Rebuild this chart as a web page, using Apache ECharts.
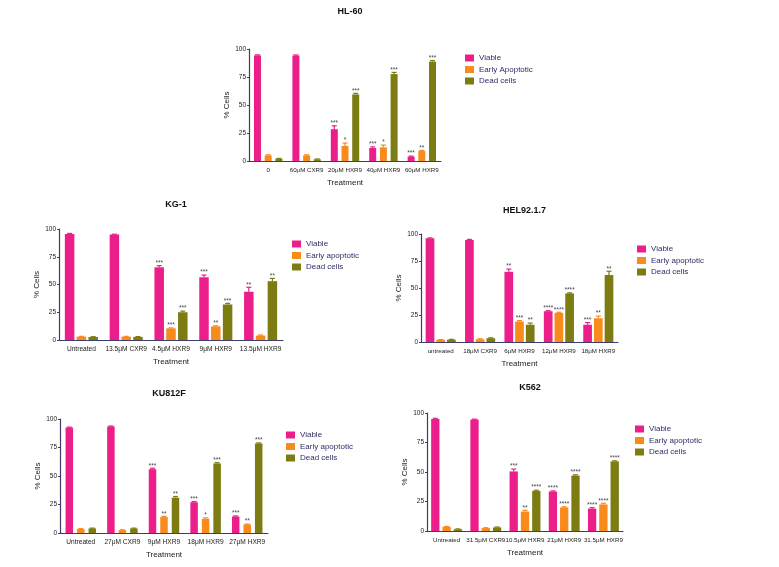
<!DOCTYPE html>
<html>
<head>
<meta charset="utf-8">
<script src="https://cdn.jsdelivr.net/npm/echarts@6/dist/echarts.min.js"></script>
<style>
  html, body { margin: 0; padding: 0; background: #fff; }
  #chart { width: 779px; height: 567px; }
</style>
</head>
<body>
<div id="chart"></div>
<script>
// HL-60
var hl60Cats = ['0', '60μM CXR9', '20μM HXR9', '40μM HXR9', '60μM HXR9'];
var hl60Viable = [94.3, 94.2, 28.4, 11.6, 3.9];
var hl60Early = [5, 5, 13.5, 12.2, 9];
var hl60Dead = [2, 1.5, 59.4, 77.6, 88.7];
var hl60ViableErr = [0.5, 0.5, 3, 1, 0.5];
var hl60EarlyErr = [0.5, 0.5, 2.5, 2, 0.5];
var hl60DeadErr = [0.3, 0.3, 1, 1.5, 1];
var hl60ViableSig = ['', '', '***', '***', '***'];
var hl60EarlySig = ['', '', '*', '*', '**'];
var hl60DeadSig = ['', '', '***', '***', '***'];

// KG-1
var kg1Cats = ['Untreated', '13.5μM CXR9', '4.5μM HXR9', '9μM HXR9', '13.5μM HXR9'];
var kg1Viable = [95.5, 95, 65.5, 56.5, 43.5];
var kg1Early = [3, 3, 10.5, 12.3, 4];
var kg1Dead = [2.7, 2.8, 25, 32, 53];
var kg1ViableErr = [0.5, 0.3, 1.5, 2, 4];
var kg1EarlyErr = [0.3, 0.3, 0.4, 0.5, 0.5];
var kg1DeadErr = [0.3, 0.3, 1, 1, 2.5];
var kg1ViableSig = ['', '', '***', '***', '**'];
var kg1EarlySig = ['', '', '***', '**', ''];
var kg1DeadSig = ['', '', '***', '***', '**'];

// HEL92.1.7
var helCats = ['untreated', '18μM CXR9', '6μM HXR9', '12μM HXR9', '18μM HXR9'];
var helViable = [96, 94.5, 65, 28.5, 16];
var helEarly = [2, 2.5, 19, 27, 22];
var helDead = [2.2, 3.5, 16, 45, 62];
var helViableErr = [0.4, 0.5, 2.5, 0.5, 2];
var helEarlyErr = [0.3, 0.5, 0.8, 0.5, 2];
var helDeadErr = [0.3, 0.4, 1.5, 0.5, 3.5];
var helViableSig = ['', '', '**', '****', '***'];
var helEarlySig = ['', '', '***', '****', '**'];
var helDeadSig = ['', '', '**', '****', '**'];

// KU812F
var kuCats = ['Untreated', '27μM CXR9', '9μM HXR9', '18μM HXR9', '27μM HXR9'];
var kuViable = [92.5, 93.5, 56, 27, 14.5];
var kuEarly = [3.5, 2.5, 14, 12.5, 7.5];
var kuDead = [4, 4, 31, 61, 78.5];
var kuViableErr = [0.4, 0.4, 0.8, 0.6, 0.5];
var kuEarlyErr = [0.3, 0.3, 0.6, 0.8, 0.4];
var kuDeadErr = [0.3, 0.3, 1, 0.7, 0.5];
var kuViableSig = ['', '', '***', '***', '***'];
var kuEarlySig = ['', '', '**', '*', '**'];
var kuDeadSig = ['', '', '**', '***', '***'];

// K562
var k562Cats = ['Untreated', '31.5μM CXR9', '10.5μM HXR9', '21μM HXR9', '31.5μM HXR9'];
var k562Viable = [95, 94.5, 50.5, 33.5, 19];
var k562Early = [3.5, 2.5, 16.5, 20, 22.5];
var k562Dead = [1.5, 3, 34, 47, 59];
var k562ViableErr = [0.5, 0.3, 2, 0.5, 0.8];
var k562EarlyErr = [0.4, 0.3, 1, 0.5, 1];
var k562DeadErr = [0.3, 0.4, 0.6, 0.6, 0.5];
var k562ViableSig = ['', '', '***', '****', '****'];
var k562EarlySig = ['', '', '**', '****', '****'];
var k562DeadSig = ['', '', '****', '****', '****'];

var colors = ['#ec1f8a', '#f98a1c', '#7d7c13'];
var font = "'Liberation Sans Narrow', 'Arial Narrow', 'Liberation Sans', Arial, sans-serif";

var panels = [
    {title: 'HL-60', cats: hl60Cats, names: ['Viable', 'Early Apoptotic', 'Dead cells'],
     vals: [hl60Viable, hl60Early, hl60Dead], errs: [hl60ViableErr, hl60EarlyErr, hl60DeadErr],
     sigs: [hl60ViableSig, hl60EarlySig, hl60DeadSig],
     left: 249, top: 49, width: 192, height: 112, bw: 7, gap: 3.7, titleY: 2, legX: 460, legY: 49, fs: 6.2},
    {title: 'KG-1', cats: kg1Cats, names: ['Viable', 'Early apoptotic', 'Dead cells'],
     vals: [kg1Viable, kg1Early, kg1Dead], errs: [kg1ViableErr, kg1EarlyErr, kg1DeadErr],
     sigs: [kg1ViableSig, kg1EarlySig, kg1DeadSig],
     left: 59, top: 229, width: 224, height: 111, bw: 9.5, gap: 2.3, titleY: 195, legX: 287, legY: 235, fs: 6.6},
    {title: 'HEL92.1.7', cats: helCats, names: ['Viable', 'Early apoptotic', 'Dead cells'],
     vals: [helViable, helEarly, helDead], errs: [helViableErr, helEarlyErr, helDeadErr],
     sigs: [helViableSig, helEarlySig, helDeadSig],
     left: 421, top: 234, width: 197, height: 108, bw: 8.7, gap: 2, titleY: 201, legX: 632, legY: 240, fs: 6.2},
    {title: 'KU812F', cats: kuCats, names: ['Viable', 'Early apoptotic', 'Dead cells'],
     vals: [kuViable, kuEarly, kuDead], errs: [kuViableErr, kuEarlyErr, kuDeadErr],
     sigs: [kuViableSig, kuEarlySig, kuDeadSig],
     left: 60, top: 419, width: 208, height: 114, bw: 7.5, gap: 4, titleY: 384, legX: 281, legY: 426, fs: 6.6},
    {title: 'K562', cats: k562Cats, names: ['Viable', 'Early apoptotic', 'Dead cells'],
     vals: [k562Viable, k562Early, k562Dead], errs: [k562ViableErr, k562EarlyErr, k562DeadErr],
     sigs: [k562ViableSig, k562EarlySig, k562DeadSig],
     left: 427, top: 413, width: 196, height: 118, bw: 8.3, gap: 3, titleY: 378, legX: 630, legY: 420, fs: 6.2}
];

var option = {
    animation: false,
    backgroundColor: '#fff',
    textStyle: {fontFamily: font},
    title: [], legend: [], grid: [], xAxis: [], yAxis: [], series: []
};

var errorSeries = function (p, idx) {
    var items = [], sigs = [];
    for (var k = 0; k < 3; k++) {
        for (var i = 0; i < p.cats.length; i++) {
            items.push([i, p.vals[k][i], p.errs[k][i], k]);
            sigs.push(p.sigs[k][i]);
        }
    }
    return {
        type: 'custom',
        xAxisIndex: idx,
        yAxisIndex: idx,
        z: 3,
        silent: true,
        data: items,
        renderItem: function (params, api) {
            var cat = api.value(0), val = api.value(1), err = api.value(2), k = api.value(3);
            var off = (k - 1) * (p.bw + p.gap);
            var top = api.coord([cat, val + err]);
            var base = api.coord([cat, val]);
            var x = top[0] + off;
            var c = colors[k];
            var children = [
                {type: 'line', shape: {x1: x, y1: base[1], x2: x, y2: top[1]}, style: {stroke: c, lineWidth: 1.2}},
                {type: 'line', shape: {x1: x - 2.5, y1: top[1], x2: x + 2.5, y2: top[1]}, style: {stroke: c, lineWidth: 1.2}}
            ];
            var s = sigs[params.dataIndex];
            if (s) {
                children.push({
                    type: 'text',
                    style: {
                        text: s, x: x, y: top[1] + 1,
                        align: 'center', verticalAlign: 'bottom',
                        textAlign: 'center', textVerticalAlign: 'bottom',
                        fill: '#444', fontSize: 6.5, fontFamily: font
                    }
                });
            }
            return {type: 'group', children: children};
        }
    };
};

panels.forEach(function (p, idx) {
    option.title.push({
        text: p.title,
        left: p.left + p.width / 2,
        top: p.titleY,
        textAlign: 'center',
        textStyle: {fontSize: 9, fontWeight: 'bold', color: '#111', fontFamily: font}
    });
    option.legend.push({
        data: p.names,
        orient: 'vertical',
        left: p.legX,
        top: p.legY,
        itemWidth: 9,
        itemHeight: 7,
        itemGap: 3.5,
        icon: 'rect',
        selectedMode: false,
        textStyle: {fontSize: 8, color: '#2d2d66', fontFamily: font}
    });
    option.grid.push({left: p.left, top: p.top, width: p.width, height: p.height, containLabel: false});
    option.xAxis.push({
        type: 'category',
        gridIndex: idx,
        data: p.cats,
        name: 'Treatment',
        nameLocation: 'middle',
        nameGap: 18,
        nameTextStyle: {fontSize: 8, color: '#222', fontFamily: font},
        axisLine: {lineStyle: {color: '#3c3c6e', width: 1.2}},
        axisTick: {alignWithLabel: true, length: 2, lineStyle: {color: '#3c3c6e'}},
        axisLabel: {fontSize: p.fs, color: '#222', margin: 6, interval: 0, fontFamily: font}
    });
    option.yAxis.push({
        type: 'value',
        gridIndex: idx,
        min: 0,
        max: 100,
        interval: 25,
        name: '% Cells',
        nameLocation: 'middle',
        nameGap: 17,
        nameTextStyle: {fontSize: 8, color: '#222', fontFamily: font},
        splitLine: {show: false},
        axisLine: {show: true, lineStyle: {color: '#3c3c6e', width: 1.2}},
        axisTick: {show: true, length: 2, lineStyle: {color: '#3c3c6e'}},
        axisLabel: {fontSize: 6.5, color: '#222', margin: 3, fontFamily: font}
    });
    for (var k = 0; k < 3; k++) {
        option.series.push({
            name: p.names[k],
            type: 'bar',
            xAxisIndex: idx,
            yAxisIndex: idx,
            data: p.vals[k],
            barWidth: p.bw,
            barGap: (p.gap / p.bw * 100) + '%',
            itemStyle: {color: colors[k]},
            silent: true
        });
    }
    option.series.push(errorSeries(p, idx));
});

var chart = echarts.init(document.getElementById('chart'));
chart.setOption(option);
</script>
</body>
</html>
